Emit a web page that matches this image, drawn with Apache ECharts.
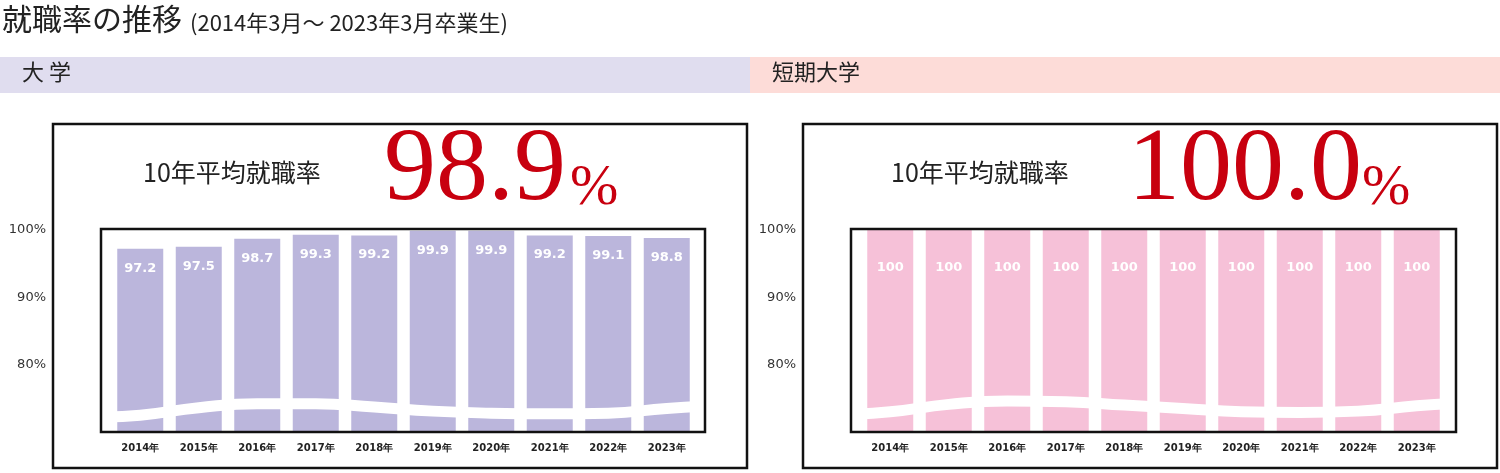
<!DOCTYPE html>
<html>
<head>
<meta charset="UTF-8">
<script src="https://cdn.jsdelivr.net/npm/echarts@6/dist/echarts.min.js"></script>
</head>
<body style="margin:0">
<div id="main" style="width:1500px;height:473px;"></div>
<script type="text/javascript">
// 年度
var years = ['2014年','2015年','2016年','2017年','2018年','2019年','2020年','2021年','2022年','2023年'];
// 大学・短期大学の就職率
var univ = [97.2, 97.5, 98.7, 99.3, 99.2, 99.9, 99.9, 99.2, 99.1, 98.8];
var junior = [100, 100, 100, 100, 100, 100, 100, 100, 100, 100];
var yTicks = [80, 90, 100];
// 省略線（波線）の位置
var waveX = [-0.8, 0, 1, 2, 3, 4, 5, 6, 7, 8, 9, 9.8];
var waveUniv = [72.2, 72.5, 73.6, 74.2, 74.2, 73.7, 73.1, 72.8, 72.7, 72.8, 73.5, 73.9];
var waveJunior = [72.6, 73.0, 74.1, 74.6, 74.5, 74.0, 73.5, 73.0, 72.9, 73.1, 73.9, 74.3];

var sans = '"DejaVu Sans", Verdana, sans-serif';
var jp = '"Noto Sans CJK JP", sans-serif';
var serif = '"Liberation Serif", serif';

function pairs(xs, ys) {
    var r = [];
    for (var i = 0; i < xs.length; i++) r.push([xs[i], ys[i]]);
    return r;
}

function yAxisOpt(idx) {
    return {
        gridIndex: idx, type: 'value', min: 70, max: 100, interval: 10,
        splitLine: {show: false}, axisLine: {show: false}, axisTick: {show: false},
        axisLabel: {
            margin: 65, color: '#333', fontFamily: sans, fontSize: 13,
            formatter: function (v) { return yTicks.indexOf(v) >= 0 ? v + '%' : ''; }
        }
    };
}

function xAxisOpt(idx) {
    return {gridIndex: idx, type: 'category', data: years, axisLine: {show: false}, axisTick: {show: false},
        axisLabel: {margin: 11, fontWeight: 'bold', fontSize: 10, color: '#222', fontFamily: sans}};
}

var option = {
    animation: false,
    backgroundColor: '#fff',
    grid: [
        {left: 111, top: 230, width: 585, height: 202},
        {left: 861, top: 230, width: 585, height: 202}
    ],
    xAxis: [
        xAxisOpt(0), xAxisOpt(1),
        {gridIndex: 0, type: 'value', min: -0.5, max: 9.5, show: false},
        {gridIndex: 1, type: 'value', min: -0.5, max: 9.5, show: false}
    ],
    yAxis: [yAxisOpt(0), yAxisOpt(1)],
    series: [
        {type: 'bar', xAxisIndex: 0, yAxisIndex: 0, data: univ, barWidth: 46,
         itemStyle: {color: '#bbb6dc'},
         label: {show: true, position: 'insideTop', distance: 13, color: '#fff', fontWeight: 'bold', fontSize: 13, fontFamily: sans}},
        {type: 'bar', xAxisIndex: 1, yAxisIndex: 1, data: junior, barWidth: 46,
         itemStyle: {color: '#f6c1d8'},
         label: {show: true, position: 'insideTop', distance: 31, color: '#fff', fontWeight: 'bold', fontSize: 13, fontFamily: sans}},
        {type: 'line', xAxisIndex: 2, yAxisIndex: 0, data: pairs(waveX, waveUniv), smooth: true, symbol: 'none',
         clip: false, lineStyle: {color: '#fff', width: 11}, z: 5},
        {type: 'line', xAxisIndex: 3, yAxisIndex: 1, data: pairs(waveX, waveJunior), smooth: true, symbol: 'none',
         clip: false, lineStyle: {color: '#fff', width: 11}, z: 5}
    ],
    graphic: [
        {type: 'text', left: 2, top: 4, style: {text: '就職率の推移', font: '30px ' + jp, fill: '#222'}},
        {type: 'text', left: 190, top: 12, style: {text: '(2014年3月～ 2023年3月卒業生)', font: '22px ' + jp, fill: '#222'}},
        {type: 'rect', shape: {x: 0, y: 57, width: 750, height: 36}, style: {fill: '#e0ddef'}},
        {type: 'rect', shape: {x: 750, y: 57, width: 750, height: 36}, style: {fill: '#fddcd8'}},
        {type: 'text', left: 22, top: 61, style: {text: '大 学', font: '22px ' + jp, fill: '#222'}},
        {type: 'text', left: 772, top: 61, style: {text: '短期大学', font: '22px ' + jp, fill: '#222'}},
        {type: 'rect', shape: {x: 53, y: 124, width: 694, height: 344}, style: {fill: 'none', stroke: '#111', lineWidth: 2.5}},
        {type: 'rect', shape: {x: 803, y: 124, width: 694, height: 344}, style: {fill: 'none', stroke: '#111', lineWidth: 2.5}},
        {type: 'rect', z: 10, shape: {x: 101, y: 229, width: 604, height: 203}, style: {fill: 'none', stroke: '#111', lineWidth: 2.5}},
        {type: 'rect', z: 10, shape: {x: 851, y: 229, width: 605, height: 203}, style: {fill: 'none', stroke: '#111', lineWidth: 2.5}},
        {type: 'text', left: 143, top: 160, style: {text: '10年平均就職率', font: '25px ' + jp, fill: '#222'}},
        {type: 'text', left: 891, top: 160, style: {text: '10年平均就職率', font: '25px ' + jp, fill: '#222'}},
        {type: 'text', left: 384, top: 120, style: {text: '98.9', font: '104px ' + serif, fill: '#c8000f'}},
        {type: 'text', left: 570, top: 160, style: {text: '%', font: '58px ' + serif, fill: '#c8000f'}},
        {type: 'text', left: 1128, top: 120, style: {text: '100.0', font: '104px ' + serif, fill: '#c8000f'}},
        {type: 'text', left: 1362, top: 160, style: {text: '%', font: '58px ' + serif, fill: '#c8000f'}}
    ]
};
var myChart = echarts.init(document.getElementById('main'));
myChart.setOption(option);
</script>
</body>
</html>
